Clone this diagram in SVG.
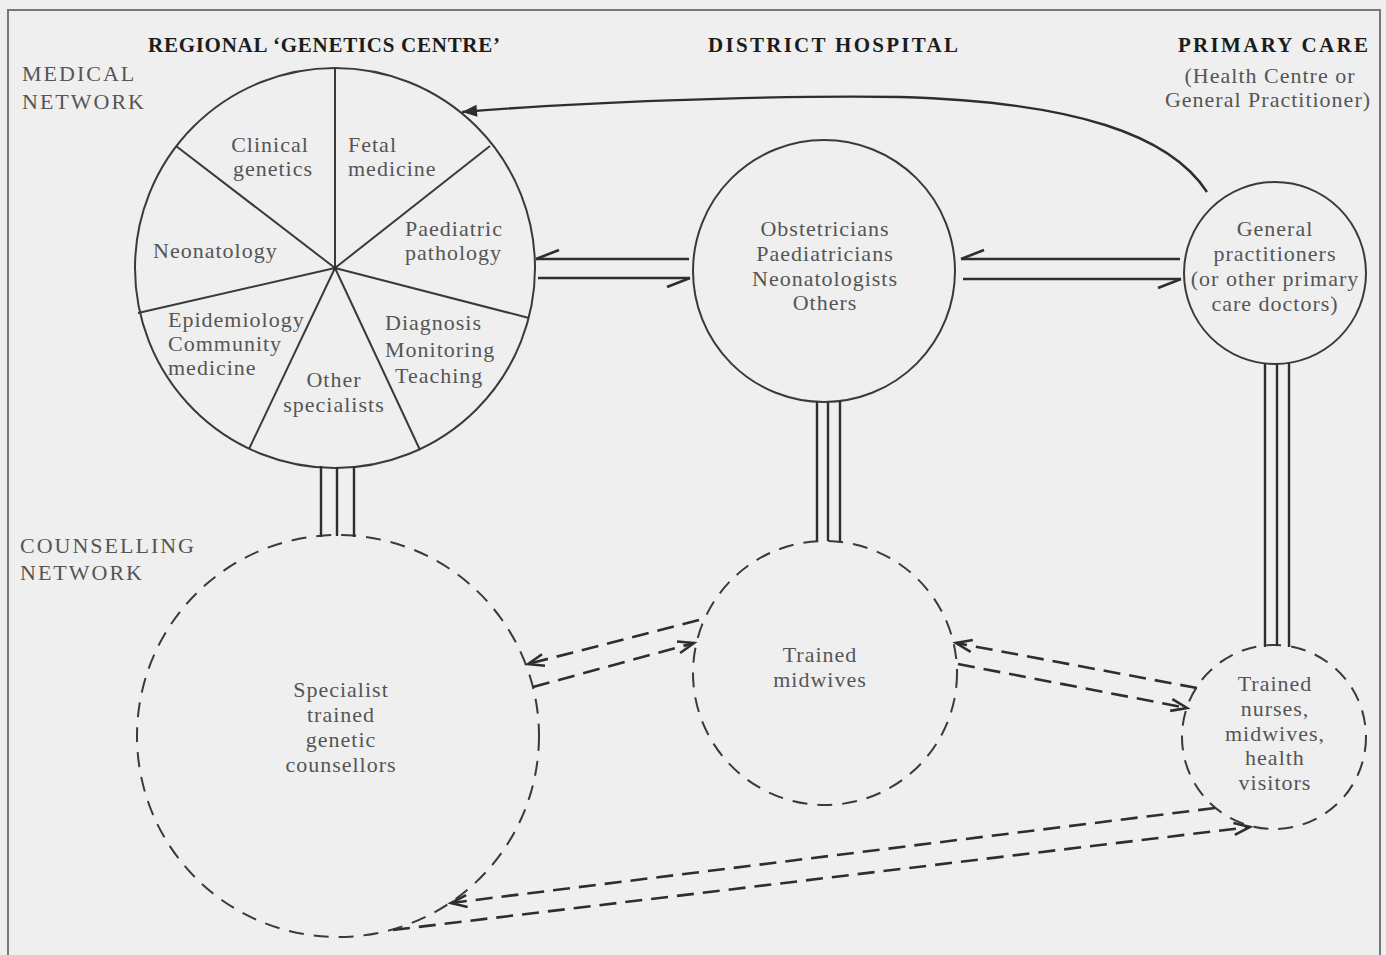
<svg xmlns="http://www.w3.org/2000/svg" width="1386" height="955" viewBox="0 0 1386 955">
  <style>
    .bg { fill: #efefef; }
    .frame { fill: none; stroke: #777; stroke-width: 2; }
    .solid { fill: none; stroke: #3a3a3a; stroke-width: 2; }
    .dashc { fill: none; stroke: #3a3a3a; stroke-width: 2; stroke-dasharray: 15 10; }
    .link { fill: none; stroke: #2e2e2e; stroke-width: 2.4; }
    .dlink { fill: none; stroke: #2e2e2e; stroke-width: 2.6; stroke-dasharray: 17 9; }
    .head { font-family: "Liberation Serif", "Times New Roman", serif; font-weight: bold; font-size: 21px; fill: #1c1c1c; }
    .side { font-family: "Liberation Serif", "Times New Roman", serif; font-size: 22px; letter-spacing: 2px; fill: #555; }
    .lbl { font-family: "Liberation Serif", "Times New Roman", serif; font-size: 22px; letter-spacing: 1px; fill: #555; }
    .mid { text-anchor: middle; }
  </style>
  <defs>
    <marker id="barb" markerUnits="userSpaceOnUse" markerWidth="30" markerHeight="30" refX="0" refY="0" orient="auto" overflow="visible">
      <path d="M0 0 L-23 9" fill="none" stroke="#2e2e2e" stroke-width="2.6"/>
    </marker>
    <marker id="vee" markerUnits="userSpaceOnUse" markerWidth="30" markerHeight="30" refX="0" refY="0" orient="auto" overflow="visible">
      <path d="M-16 -6 L0 0 L-16 6" fill="none" stroke="#2e2e2e" stroke-width="2.6" stroke-dasharray="none"/>
    </marker>
    <marker id="tri" markerUnits="userSpaceOnUse" markerWidth="30" markerHeight="30" refX="0" refY="0" orient="auto" overflow="visible">
      <path d="M-15 -6 L0 0 L-15 6 Z" fill="#2e2e2e"/>
    </marker>
  </defs>

  <rect class="bg" x="0" y="0" width="1386" height="955"/>
  <rect class="frame" x="8" y="10" width="1372" height="980"/>

  <!-- column and row headings -->
  <g id="headings">
    <text class="head" x="148" y="52" textLength="352" lengthAdjust="spacing">REGIONAL ‘GENETICS CENTRE’</text>
    <text class="head" x="708" y="52" textLength="250" lengthAdjust="spacing">DISTRICT HOSPITAL</text>
    <text class="head" x="1178" y="52" textLength="190" lengthAdjust="spacing">PRIMARY CARE</text>
    <text class="lbl mid" x="1270" y="83">(Health Centre or</text>
    <text class="lbl mid" x="1268" y="107">General Practitioner)</text>
    <text class="side" x="22" y="81">MEDICAL</text>
    <text class="side" x="22" y="109">NETWORK</text>
    <text class="side" x="20" y="553">COUNSELLING</text>
    <text class="side" x="20" y="580">NETWORK</text>
  </g>

  <!-- regional genetics centre: pie of specialties -->
  <g id="genetics-centre">
    <circle class="solid" cx="335" cy="268" r="200"/>
    <path class="solid" d="M335 268 L335 68 M335 268 L490 146 M335 268 L176 146 M335 268 L138 313 M335 268 L529 318 M335 268 L249 449 M335 268 L420 450"/>
    <circle cx="335" cy="268" r="2" fill="#2e2e2e"/>
    <text class="lbl mid" x="270" y="152">Clinical</text>
    <text class="lbl mid" x="273" y="176">genetics</text>
    <text class="lbl" x="348" y="152">Fetal</text>
    <text class="lbl" x="348" y="176">medicine</text>
    <text class="lbl" x="405" y="236">Paediatric</text>
    <text class="lbl" x="405" y="260">pathology</text>
    <text class="lbl" x="153" y="258">Neonatology</text>
    <text class="lbl" x="168" y="327">Epidemiology</text>
    <text class="lbl" x="168" y="351">Community</text>
    <text class="lbl" x="168" y="375">medicine</text>
    <text class="lbl mid" x="334" y="387">Other</text>
    <text class="lbl mid" x="334" y="412">specialists</text>
    <text class="lbl" x="385" y="330">Diagnosis</text>
    <text class="lbl" x="385" y="357">Monitoring</text>
    <text class="lbl" x="395" y="383">Teaching</text>
  </g>

  <g id="district-hospital">
    <circle class="solid" cx="824" cy="271" r="131"/>
    <text class="lbl mid" x="825" y="236">Obstetricians</text>
    <text class="lbl mid" x="825" y="261">Paediatricians</text>
    <text class="lbl mid" x="825" y="286">Neonatologists</text>
    <text class="lbl mid" x="825" y="310">Others</text>
  </g>

  <g id="general-practitioners">
    <circle class="solid" cx="1275" cy="273" r="91"/>
    <text class="lbl mid" x="1275" y="236">General</text>
    <text class="lbl mid" x="1275" y="261">practitioners</text>
    <text class="lbl mid" x="1275" y="286">(or other primary</text>
    <text class="lbl mid" x="1275" y="311">care doctors)</text>
  </g>

  <g id="genetic-counsellors">
    <circle class="dashc" cx="338" cy="736" r="201"/>
    <text class="lbl mid" x="341" y="697">Specialist</text>
    <text class="lbl mid" x="341" y="722">trained</text>
    <text class="lbl mid" x="341" y="747">genetic</text>
    <text class="lbl mid" x="341" y="772">counsellors</text>
  </g>

  <g id="trained-midwives">
    <circle class="dashc" cx="825" cy="673" r="132"/>
    <text class="lbl mid" x="820" y="662">Trained</text>
    <text class="lbl mid" x="820" y="687">midwives</text>
  </g>

  <g id="trained-nurses">
    <circle class="dashc" cx="1274" cy="737" r="92"/>
    <text class="lbl mid" x="1275" y="691">Trained</text>
    <text class="lbl mid" x="1275" y="716">nurses,</text>
    <text class="lbl mid" x="1275" y="741">midwives,</text>
    <text class="lbl mid" x="1275" y="765">health</text>
    <text class="lbl mid" x="1275" y="790">visitors</text>
  </g>

  <g id="connectors">
    <!-- referral from primary care back to the genetics centre -->
    <path class="link" d="M1207 192 C1170 135 1075 102 900 97 C760 95 570 103 462 112" marker-end="url(#tri)"/>

    <!-- medical network exchanges -->
    <path class="link" d="M689 259 L536 259" marker-end="url(#barb)"/>
    <path class="link" d="M538 278 L690 278" marker-end="url(#barb)"/>
    <path class="link" d="M1180 259 L961 259" marker-end="url(#barb)"/>
    <path class="link" d="M963 279 L1181 279" marker-end="url(#barb)"/>

    <!-- links between the medical and counselling networks -->
    <path class="link" d="M321 466 V537 M337 467 V536 M354 466 V537"/>
    <path class="link" d="M817 402 V541 M828 402 V541 M840 401 V542"/>
    <path class="link" d="M1265 363 V647 M1277 364 V646 M1289 363 V647"/>

    <!-- counselling network exchanges -->
    <path class="dlink" d="M699 620 L528 664" marker-end="url(#vee)"/>
    <path class="dlink" d="M533 687 L694 643" marker-end="url(#vee)"/>
    <path class="dlink" d="M1197 688 L956 643" marker-end="url(#vee)"/>
    <path class="dlink" d="M958 664 L1187 708" marker-end="url(#vee)"/>
    <path class="dlink" d="M1215 808 L451 903" marker-end="url(#vee)"/>
    <path class="dlink" d="M393 930 L1250 827" marker-end="url(#vee)"/>
  </g>
</svg>
